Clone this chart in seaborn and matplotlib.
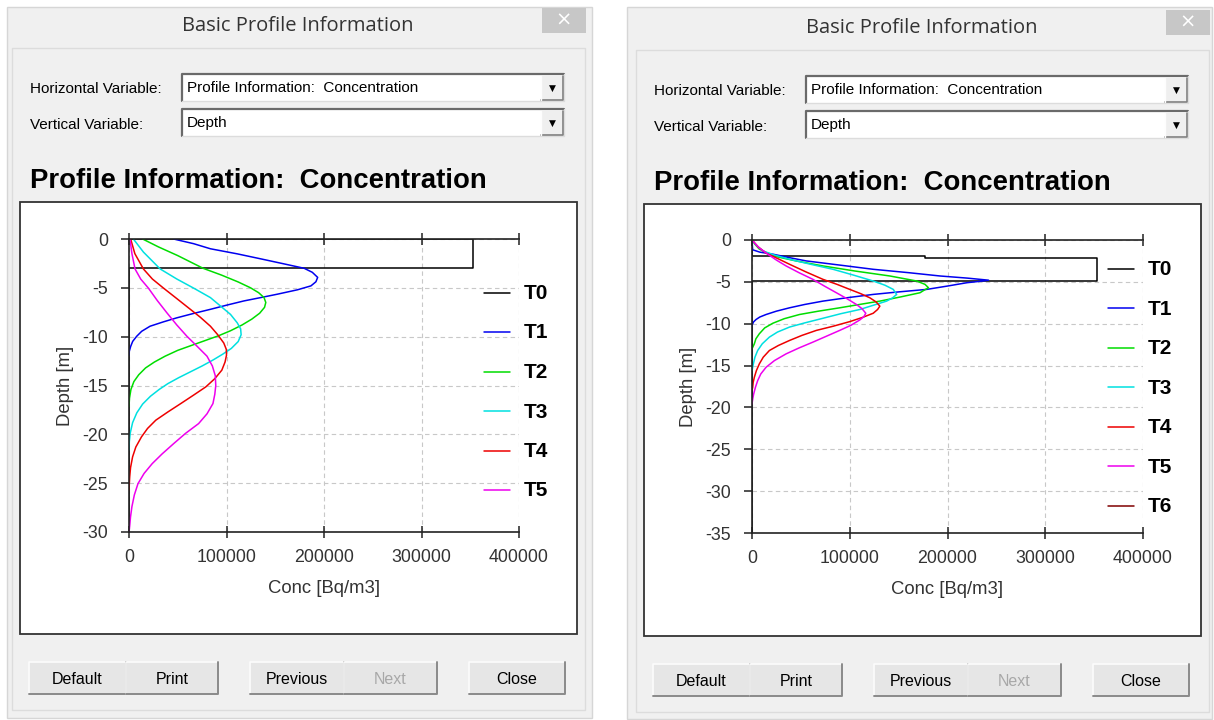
"""Two 'Basic Profile Information' dialogs with concentration-depth profiles."""

import matplotlib

matplotlib.use("Agg")

import matplotlib.pyplot as plt
import pandas as pd
import seaborn as sns
from matplotlib.lines import Line2D
from matplotlib.patches import Rectangle

W, H = 1214, 720

# ---- left dialog: profiles T0..T5 (conc in Bq/m3, depth in m) ----
left_t0_conc = [0, 352700, 352700, 0, 0]
left_t0_depth = [0, 0, -3.0, -3.0, -30]
left_t1_conc = [45700, 66300, 83500, 111000, 135000, 159100, 179700, 188000, 193500, 191700, 186600, 172800,
                152200, 135000, 117900, 100700, 83500, 66300, 49100, 35400, 21600, 13000, 7900, 3800, 1700, 300, 0]
left_t1_depth = [0, -0.48, -1.0, -1.52, -2.03, -2.55, -3.0, -3.41, -3.93, -4.38, -4.8, -5.2,
                 -5.65, -6.0, -6.34, -6.76, -7.2, -7.62, -8.07, -8.48, -8.93, -9.45, -9.96, -10.48, -11.0, -11.5, -11.9]
left_t2_conc = [14000, 30000, 50000, 76000, 95000, 112000, 124700, 133000, 138500, 140300, 139000, 134000, 126000,
                116000, 104000, 92000, 78000, 64000, 50000, 37000, 26000, 17000, 10000, 5000, 2000, 500, 0]
left_t2_depth = [0, -0.8, -1.7, -3.0, -3.7, -4.4, -5.0, -5.5, -6.0, -6.5, -7.0, -7.6, -8.2,
                 -8.8, -9.4, -9.9, -10.4, -10.9, -11.4, -12.0, -12.6, -13.2, -13.9, -14.6, -15.4, -16.3, -17.2]
left_t3_conc = [4500, 14800, 32000, 49100, 66300, 83500, 93800, 104100, 111000, 114500, 115000, 112000, 105000,
                96000, 86000, 75000, 63000, 51000, 40000, 31000, 22000, 14000, 8000, 3700, 1200, 300, 0]
left_t3_depth = [0, -1.34, -3.07, -4.1, -5.03, -6.0, -6.86, -7.72, -8.58, -9.2, -9.8, -10.5, -11.2,
                 -11.8, -12.4, -13.0, -13.6, -14.2, -14.8, -15.4, -16.1, -16.9, -17.8, -18.8, -19.9, -20.8, -21.6]
left_t4_conc = [1700, 6000, 14800, 24000, 35400, 49000, 62900, 73000, 83500, 91000, 97200, 99800, 100000, 98500,
                95200, 88000, 78800, 66000, 53100, 40000, 27500, 19000, 12800, 7000, 3700, 1600, 700, 0]
left_t4_depth = [0, -1.5, -3.07, -4.1, -5.03, -6.1, -7.2, -8.0, -8.93, -9.8, -10.65, -11.3, -11.9, -12.6,
                 -13.43, -14.3, -15.14, -16.0, -16.85, -17.7, -18.55, -19.4, -20.26, -21.3, -22.3, -23.4, -24.36, -25.7]
left_t5_conc = [1000, 3000, 6200, 12000, 19900, 29000, 38800, 49000, 59400, 70000, 80000, 85500, 88500, 89000, 88000,
                86100, 80000, 71400, 58000, 45800, 34000, 23800, 15500, 9200, 5500, 3000, 1500, 700, 0]
left_t5_depth = [0, -1.5, -3.07, -4.1, -5.03, -6.3, -7.55, -8.8, -9.96, -11.0, -12.0, -13.0, -14.0, -15.0, -15.9,
                 -16.85, -17.9, -18.9, -19.9, -20.95, -22.0, -23.0, -24.0, -25.05, -26.2, -27.4, -28.5, -29.4, -30]

# ---- right dialog: profiles T0..T6 ----
right_t0_conc = [0, 0, 177000, 177000, 353000, 353000, 0, 0]
right_t0_depth = [0, -1.95, -1.95, -2.15, -2.15, -4.95, -4.95, -35]
right_t1_conc = [0, 300, 700, 8000, 21200, 38000, 55500, 90000, 124000, 160000, 192500, 220000, 242000, 232000,
                 220000, 200000, 178800, 150000, 124000, 97000, 72600, 54000, 38400, 25000, 14400, 8000, 4100, 1500, 0]
right_t1_depth = [0, -0.6, -1.17, -1.45, -1.69, -2.1, -2.5, -3.0, -3.5, -3.9, -4.3, -4.55, -4.8, -4.95,
                  -5.1, -5.5, -5.9, -6.2, -6.5, -6.9, -7.3, -7.7, -8.1, -8.5, -8.9, -9.2, -9.5, -9.8, -10.2]
right_t2_conc = [0, 3000, 7500, 21200, 45000, 72600, 105000, 141100, 168500, 177000, 180500, 176000, 171900,
                 152000, 130800, 110000, 89700, 68000, 48600, 33000, 21200, 13000, 7500, 4000, 2400, 0]
right_t2_depth = [0, -0.5, -1.09, -1.89, -2.5, -3.1, -3.7, -4.3, -4.9, -5.3, -5.7, -6.0, -6.3,
                  -6.8, -7.3, -7.7, -8.1, -8.5, -8.9, -9.4, -9.95, -10.5, -11.2, -11.8, -12.4, -13.0]
right_t3_conc = [0, 4000, 11000, 23000, 38400, 60000, 82900, 104000, 124000, 136000, 144500, 148000, 144000, 137700,
                 124000, 110300, 91000, 72600, 54000, 38400, 26000, 17800, 10500, 5800, 3000, 1400, 0]
right_t3_depth = [0, -0.6, -1.3, -1.8, -2.3, -2.9, -3.5, -4.2, -4.9, -5.4, -5.9, -6.5, -6.9, -7.3,
                  -7.8, -8.3, -8.8, -9.35, -9.9, -10.4, -11.0, -11.6, -12.4, -13.2, -14.0, -14.8, -15.6]
right_t4_conc = [0, 6000, 14400, 26000, 38400, 55000, 72600, 87000, 100000, 111000, 120500, 127000, 130800, 128500,
                 124000, 113000, 100000, 83000, 65800, 51000, 38400, 27000, 17800, 11500, 7500, 4500, 2400, 1200, 700, 0]
right_t4_depth = [0, -0.8, -1.57, -2.2, -2.9, -3.8, -4.7, -5.3, -5.9, -6.4, -6.9, -7.4, -7.9, -8.3,
                  -8.75, -9.25, -9.75, -10.3, -10.8, -11.4, -12.0, -12.6, -13.2, -14.0, -14.8, -15.6, -16.4, -17.0, -17.6, -18.0]
right_t5_conc = [0, 7000, 16100, 25000, 34900, 48000, 62300, 74000, 86300, 97000, 106800, 112500, 116400, 114500,
                 110300, 101000, 89700, 76000, 62300, 48000, 34900, 23000, 14400, 9000, 5800, 3500, 1700, 700, 0]
right_t5_depth = [0, -0.9, -1.69, -2.4, -3.1, -3.9, -4.7, -5.5, -6.3, -7.0, -7.7, -8.2, -8.75, -9.15,
                  -9.55, -10.2, -10.8, -11.5, -12.2, -12.9, -13.6, -14.4, -15.2, -16.0, -16.8, -17.6, -18.4, -19.0, -19.6]
right_t6_conc = []
right_t6_depth = []

series_names = ["T0", "T1", "T2", "T3", "T4", "T5", "T6"]
series_colors = ["#000000", "#0000f0", "#00dd00", "#00e0e0", "#ee0000", "#ee00ee", "#800000"]

x_ticks = [0, 100000, 200000, 300000, 400000]
left_y_ticks = [0, -5, -10, -15, -20, -25, -30]
right_y_ticks = [0, -5, -10, -15, -20, -25, -30, -35]

button_labels = ["Default", "Print", "Previous", "Next", "Close"]

UI_FONT = ["Liberation Sans", "DejaVu Sans"]
TITLE_FONT = ["Open Sans", "DejaVu Sans"]
PLOT_FONT = ["Liberation Sans", "DejaVu Sans"]


def px_rect(fig, x0, y0, x1, y1, **kw):
    kw.setdefault("zorder", -5)
    fig.add_artist(Rectangle((x0 / W, 1 - y1 / H), (x1 - x0) / W, (y1 - y0) / H,
                             transform=fig.transFigure, **kw))


def px_text(fig, x, y, s, **kw):
    fig.text(x / W, 1 - y / H, s, **kw)


def px_line(fig, xs, ys, **kw):
    fig.add_artist(Line2D([x / W for x in xs], [1 - y / H for y in ys],
                          transform=fig.transFigure, **kw))


def combo(fig, x0, y0, x1, y1, label):
    px_rect(fig, x0, y0, x1, y1, facecolor="white", edgecolor="none")
    px_line(fig, [x0, x0, x1], [y1, y0, y0], color="#6a6a6a", lw=1.6, zorder=-4)
    px_line(fig, [x0, x1, x1], [y1, y1, y0], color="#dcdcdc", lw=1.0, zorder=-4)
    px_rect(fig, x1 - 23, y0 + 2, x1 - 1, y1 - 1, facecolor="#efefef", edgecolor="none", zorder=-4)
    px_line(fig, [x1 - 23, x1 - 1, x1 - 1], [y1 - 1, y1 - 1, y0 + 2], color="#808080", lw=1.2, zorder=-3)
    px_line(fig, [x1 - 23, x1 - 23], [y1 - 1, y0 + 2], color="#fdfdfd", lw=1.0, zorder=-3)
    px_text(fig, x1 - 12, (y0 + y1) / 2 + 1, "\u25bc", ha="center", va="center", fontsize=6.5,
            color="black", family=["DejaVu Sans"])
    px_text(fig, x0 + 5, (y0 + y1) / 2 + 1, label, ha="left", va="center", fontsize=11,
            family=UI_FONT, color="black")


def button(fig, x0, x1, y0, y1, label, enabled=True):
    px_rect(fig, x0, y0, x1, y1, facecolor="#e6e6e6", edgecolor="none")
    px_line(fig, [x0, x0, x1], [y1, y0, y0], color="#fcfcfc", lw=1.2, zorder=-4)
    px_line(fig, [x0, x1, x1], [y1, y1, y0], color="#8a8a8a", lw=1.4, zorder=-4)
    px_text(fig, (x0 + x1) / 2, (y0 + y1) / 2 + 1, label, ha="center", va="center", fontsize=11.5,
            family=UI_FONT, color="black" if enabled else "#a8a8a8")


def draw_dialog(fig, dx, dy, win):
    x0, y0, x1, y1 = win
    px_rect(fig, x0, y0, x1, y1, facecolor="#f0f0f0", edgecolor="#d6d6d6", lw=1.0, zorder=-9)
    px_text(fig, 298 + dx, 26 + dy, "Basic Profile Information", ha="center", va="center",
            fontsize=14.5, family=TITLE_FONT, color="#333333")
    px_rect(fig, 542 + dx, 8 + dy, 586 + dx, 33 + dy, facecolor="#c7c7c7", edgecolor="none")
    px_text(fig, 564 + dx, 20 + dy, "\u00d7", ha="center", va="center", fontsize=14, color="white",
            family=["DejaVu Sans"])
    px_rect(fig, 12 + dx, 48 + dy, 585 + dx, 710 + dy, facecolor="none", edgecolor="#dcdcdc", lw=1.0, zorder=-8)
    px_text(fig, 30 + dx, 89 + dy, "Horizontal Variable:", ha="left", va="center", fontsize=11,
            family=UI_FONT, color="black")
    px_text(fig, 30 + dx, 125 + dy, "Vertical Variable:", ha="left", va="center", fontsize=11,
            family=UI_FONT, color="black")
    combo(fig, 182 + dx, 74 + dy, 564 + dx, 101 + dy, "Profile Information:  Concentration")
    combo(fig, 182 + dx, 109 + dy, 564 + dx, 136 + dy, "Depth")
    px_text(fig, 30 + dx, 181 + dy, "Profile Information:  Concentration", ha="left", va="center",
            fontsize=19.8, fontweight="bold", family=PLOT_FONT, color="black")
    px_rect(fig, 20 + dx, 202 + dy, 577 + dx, 634 + dy, facecolor="white", edgecolor="#333333", lw=1.3, zorder=-7)
    edges = [(29, 126), (126, 218), (250, 344), (344, 437), (469, 565)]
    for (bx0, bx1), label in zip(edges, button_labels):
        button(fig, bx0 + dx, bx1 + dx, 662 + dy, 694 + dy, label, enabled=label != "Next")


def plot_profiles(fig, rect, concs, depths, n_series, y_ticks, legend_x, legend_y0):
    ax = fig.add_axes([rect[0] / W, 1 - rect[3] / H, (rect[2] - rect[0]) / W, (rect[3] - rect[1]) / H])
    ax.patch.set_visible(False)
    frames = []
    for name, c, d in zip(series_names[:n_series], concs, depths):
        if len(c):
            frames.append(pd.DataFrame({"conc": c, "depth": d, "series": name}))
    df = pd.concat(frames, ignore_index=True)
    palette = dict(zip(series_names, series_colors))
    sns.lineplot(data=df, x="conc", y="depth", hue="series", palette=palette, sort=False,
                 estimator=None, legend=False, linewidth=1.1, ax=ax)
    ax.set_xlim(0, 400000)
    ax.set_ylim(min(y_ticks), 0)
    ax.set_xticks(x_ticks)
    ax.set_yticks(y_ticks)
    ax.set_xticklabels([str(v) for v in x_ticks])
    ax.set_yticklabels([str(v) for v in y_ticks])
    ax.grid(True, color="#c8c8c8", linestyle=(0, (4, 3)), linewidth=0.8)
    ax.set_axisbelow(True)
    for side in ["top", "bottom", "left"]:
        ax.spines[side].set_visible(True)
        ax.spines[side].set_color("#222222")
        ax.spines[side].set_linewidth(1.2)
    ax.spines["right"].set_visible(False)
    ax.tick_params(axis="x", top=True, bottom=True, direction="inout", length=9, width=1.1,
                   color="#222222", labelsize=12.8, labelcolor="#333333", pad=8)
    ax.tick_params(axis="y", left=True, right=False, direction="out", length=6, width=1.1,
                   color="#222222", labelsize=12.8, labelcolor="#333333", pad=9)
    ax.set_xlabel("Conc [Bq/m3]", fontsize=13.3, color="#333333")
    ax.set_ylabel("Depth [m]", fontsize=13.3, color="#333333")
    ax.xaxis.set_label_coords(0.5, -0.165)
    ax.yaxis.set_label_coords(-0.14, 0.5)

    lx0, lx1 = legend_x
    for i in range(n_series):
        y = legend_y0 + i * 39.5
        px_line(fig, [lx0, lx1], [y, y], color=series_colors[i], lw=1.1, zorder=5)
        px_text(fig, lx1 + 14, y + 1, series_names[i], ha="left", va="center", fontsize=15,
                fontweight="bold", family=PLOT_FONT, color="black")
    return ax


def main() -> None:
    sns.set_theme(style="white")
    plt.rcParams["font.family"] = PLOT_FONT
    plt.rcParams["axes.unicode_minus"] = False

    fig = plt.figure(figsize=(W / 100, H / 100), dpi=100)
    fig.patch.set_facecolor("white")

    draw_dialog(fig, 0, 0, (7, 7, 592, 718))
    draw_dialog(fig, 624, 2, (627, 7, 1212, 719))

    plot_profiles(
        fig, (129, 239, 519, 532),
        [left_t0_conc, left_t1_conc, left_t2_conc, left_t3_conc, left_t4_conc, left_t5_conc],
        [left_t0_depth, left_t1_depth, left_t2_depth, left_t3_depth, left_t4_depth, left_t5_depth],
        6, left_y_ticks, (484, 510), 292.5,
    )
    plot_profiles(
        fig, (752, 240, 1143, 533),
        [right_t0_conc, right_t1_conc, right_t2_conc, right_t3_conc, right_t4_conc, right_t5_conc, right_t6_conc],
        [right_t0_depth, right_t1_depth, right_t2_depth, right_t3_depth, right_t4_depth, right_t5_depth, right_t6_depth],
        7, right_y_ticks, (1108, 1134), 268.7,
    )

    fig.savefig("out.png", dpi=100)
    plt.close(fig)


if __name__ == "__main__":
    main()
